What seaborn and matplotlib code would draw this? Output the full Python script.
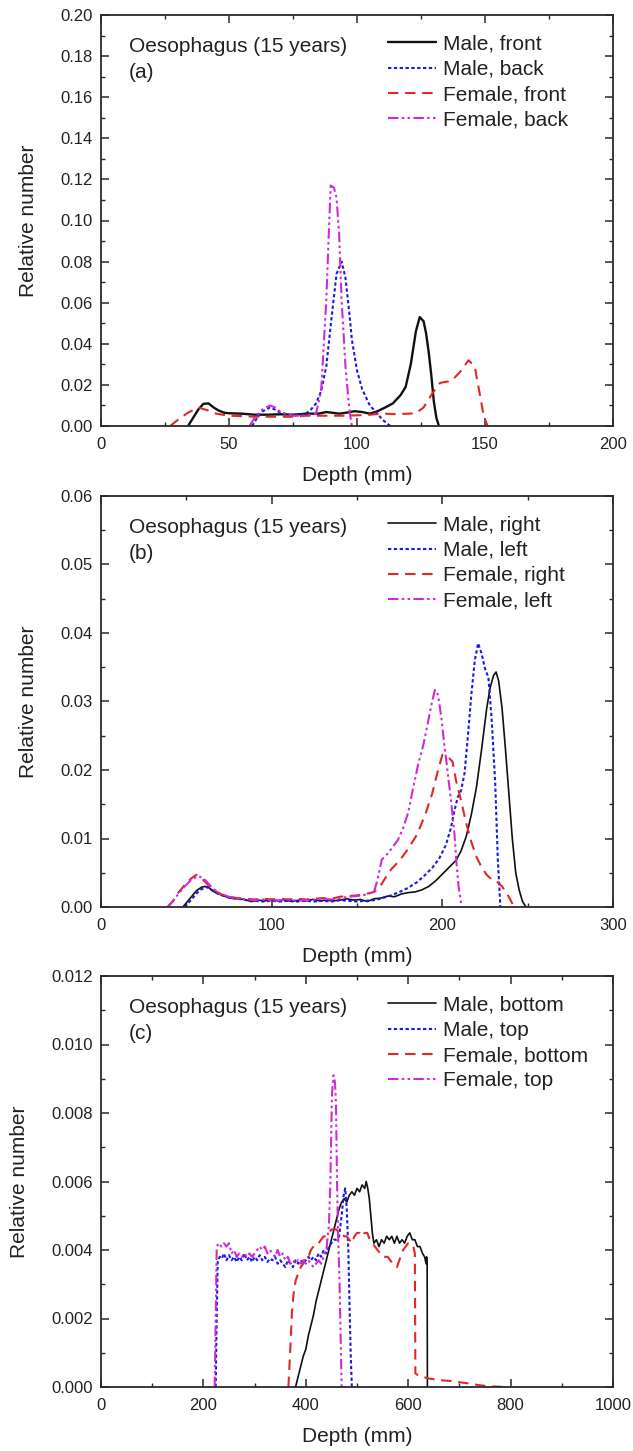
import matplotlib
matplotlib.use("Agg")
import matplotlib.pyplot as plt
import seaborn as sns
from matplotlib.ticker import MultipleLocator, FormatStrFormatter

sns.set_style("ticks")
plt.rcParams['font.family'] = ['Liberation Sans', 'DejaVu Sans']

# ---------------- Panel (a): front / back ----------------
a_male_front_x = [34, 36, 38, 40, 42, 44, 46, 48, 50, 55, 60, 65, 70, 75, 80, 85, 88, 90, 93, 96, 99, 102,
                  105, 108, 111, 114, 117, 119, 121, 123, 124.5, 126, 127, 128, 129, 130, 131, 132]
a_male_front_y = [0, 0.004, 0.008, 0.0108, 0.011, 0.009, 0.0075, 0.0065, 0.0062, 0.006, 0.0055, 0.0055,
                  0.0057, 0.0055, 0.006, 0.006, 0.0068, 0.0065, 0.006, 0.0065, 0.0072, 0.0068, 0.006, 0.0072,
                  0.009, 0.011, 0.015, 0.019, 0.03, 0.046, 0.053, 0.051, 0.045, 0.036, 0.025, 0.012, 0.004, 0]
a_male_back_x = [59, 61, 63, 66, 68, 70, 75, 80, 82, 84, 86, 88, 90, 92, 94, 95.5, 97, 98, 100, 102, 105,
                 108, 110, 113]
a_male_back_y = [0, 0.004, 0.007, 0.009, 0.008, 0.0065, 0.005, 0.006, 0.008, 0.011, 0.017, 0.029, 0.052,
                 0.074, 0.080, 0.072, 0.055, 0.042, 0.027, 0.018, 0.010, 0.006, 0.003, 0]
a_female_front_x = [27, 30, 34, 38, 42, 45, 50, 55, 60, 65, 70, 75, 80, 85, 90, 95, 100, 105, 110, 115, 120,
                    123, 126, 129.5, 132.5, 137, 140, 143.6, 146, 147.6, 149.5, 151]
a_female_front_y = [0, 0.003, 0.0065, 0.009, 0.0075, 0.006, 0.005, 0.0048, 0.0045, 0.0045, 0.0045, 0.0045,
                    0.005, 0.005, 0.005, 0.005, 0.0052, 0.0055, 0.006, 0.0058, 0.006, 0.0062, 0.009, 0.016,
                    0.021, 0.022, 0.026, 0.032, 0.029, 0.018, 0.005, 0]
a_female_back_x = [58, 60, 63, 66, 68, 70, 72, 75, 80, 84, 86, 88, 89.7, 91, 92, 93, 94, 95.5, 97, 98]
a_female_back_y = [0, 0.004, 0.008, 0.010, 0.009, 0.007, 0.006, 0.005, 0.005, 0.006, 0.0175, 0.061, 0.117,
                   0.116, 0.111, 0.094, 0.061, 0.029, 0.008, 0]
a_labels = ["Male, front", "Male, back", "Female, front", "Female, back"]

# ---------------- Panel (b): right / left ----------------
b_male_right_x = [48, 50, 53, 56, 59, 61, 63, 65, 68, 72, 76, 80, 84, 88, 92, 96, 100, 104, 108, 112, 116,
                  120, 124, 128, 132, 136, 140, 144, 148, 152, 156, 160, 164, 168, 172, 176, 180, 184, 188,
                  192, 196, 200, 204, 208, 211, 214, 217, 220, 223, 226, 228, 230, 231.5, 233, 235, 237,
                  239, 241, 243, 245, 247, 249]
b_male_right_y = [0, 0.0006, 0.0015, 0.0024, 0.0029, 0.003, 0.0029, 0.0024, 0.002, 0.0016, 0.0013, 0.0012,
                  0.0011, 0.0008, 0.001, 0.0009, 0.0011, 0.0009, 0.001, 0.0008, 0.001, 0.0009, 0.0011,
                  0.0009, 0.001, 0.0009, 0.001, 0.0012, 0.001, 0.0011, 0.0008, 0.0012, 0.0013, 0.0016,
                  0.0015, 0.0019, 0.0021, 0.0022, 0.0025, 0.003, 0.0038, 0.0048, 0.0058, 0.0068, 0.0082,
                  0.0103, 0.0135, 0.0175, 0.023, 0.029, 0.032, 0.0338, 0.0343, 0.033, 0.029, 0.023, 0.0165,
                  0.010, 0.005, 0.0025, 0.0008, 0]
b_male_left_x = [49, 52, 55, 58, 62, 65, 68, 72, 76, 80, 85, 90, 95, 100, 105, 110, 115, 120, 125, 130, 135,
                 140, 145, 150, 155, 160, 165, 170, 175, 180, 185, 190, 194, 198, 202, 205, 207, 209, 211,
                 213, 215, 217, 219, 221, 223, 225, 227, 229, 231, 232.5, 234]
b_male_left_y = [0, 0.0008, 0.0017, 0.0025, 0.0029, 0.0025, 0.002, 0.0016, 0.0013, 0.0012, 0.001, 0.0009,
                 0.0008, 0.0009, 0.0008, 0.0009, 0.0008, 0.0009, 0.0008, 0.0009, 0.0008, 0.001, 0.0009,
                 0.0008, 0.0009, 0.001, 0.0013, 0.0017, 0.0022, 0.0028, 0.0036, 0.0047, 0.0057, 0.007,
                 0.009, 0.0115, 0.014, 0.016, 0.017, 0.0195, 0.025, 0.031, 0.036, 0.0385, 0.037, 0.0348,
                 0.0335, 0.027, 0.018, 0.007, 0]
b_female_right_x = [39, 42, 45, 49, 53, 56, 59, 62, 66, 70, 75, 80, 85, 90, 95, 100, 105, 110, 115, 120, 125,
                    130, 135, 140, 145, 150, 155, 160, 163, 166, 170, 175, 180, 185, 190, 194, 197, 200, 203,
                    206, 208, 211, 214, 217, 220, 223, 226, 229, 232, 235, 238, 240, 242]
b_female_right_y = [0, 0.0008, 0.002, 0.0032, 0.0042, 0.0047, 0.0042, 0.0034, 0.0025, 0.0019, 0.0015,
                    0.0013, 0.0012, 0.0011, 0.0012, 0.0011, 0.0012, 0.0011, 0.0012, 0.0011, 0.0012, 0.0013,
                    0.0012, 0.0015, 0.0016, 0.0017, 0.0019, 0.0022, 0.0028, 0.004, 0.0055, 0.0068, 0.0085,
                    0.0105, 0.0135, 0.0165, 0.0195, 0.0222, 0.022, 0.0212, 0.0185, 0.0155, 0.0122, 0.0095,
                    0.0073, 0.0058, 0.0047, 0.004, 0.0037, 0.003, 0.0019, 0.001, 0]
b_female_left_x = [39, 42, 45, 49, 53, 57, 60, 63, 66, 70, 75, 80, 85, 90, 95, 100, 105, 110, 115, 120, 125,
                   130, 135, 140, 145, 150, 155, 160, 162, 164.5, 168, 171, 174, 177, 180, 183, 186, 189,
                   192, 194, 195.7, 197.5, 199.5, 201, 202.5, 204, 205.5, 207, 208.3, 209.5, 211.3]
b_female_left_y = [0, 0.0008, 0.0018, 0.003, 0.004, 0.0045, 0.0042, 0.0034, 0.0026, 0.0019, 0.0015, 0.0012,
                   0.0011, 0.001, 0.0011, 0.0009, 0.001, 0.0011, 0.0009, 0.001, 0.0011, 0.0012, 0.0011,
                   0.0013, 0.0015, 0.0016, 0.0018, 0.0022, 0.004, 0.0069, 0.0078, 0.0088, 0.0098, 0.0115,
                   0.0138, 0.0175, 0.021, 0.0238, 0.0275, 0.030, 0.0317, 0.031, 0.0275, 0.024, 0.021,
                   0.0178, 0.0146, 0.011, 0.0064, 0.003, 0]
b_labels = ["Male, right", "Male, left", "Female, right", "Female, left"]

# ---------------- Panel (c): bottom / top ----------------
c_male_bottom_x = [380, 385, 390, 395, 400, 405, 410, 415, 420, 425, 430, 435, 440, 445, 450, 455, 460, 465,
                   470, 475, 480, 485, 490, 495, 500, 505, 510, 515, 518, 521, 524, 527, 530, 533, 538, 543,
                   548, 553, 558, 563, 568, 573, 578, 583, 588, 593, 598, 603, 608, 613, 618, 623, 628, 632,
                   635, 636, 637, 637.5]
c_male_bottom_y = [0, 0.0003, 0.0006, 0.0009, 0.0011, 0.0015, 0.0018, 0.0021, 0.0025, 0.0028, 0.0031,
                   0.0034, 0.0037, 0.0040, 0.0043, 0.0046, 0.0049, 0.0052, 0.0054, 0.0055, 0.0054, 0.0056,
                   0.0057, 0.0056, 0.0058, 0.0057, 0.0059, 0.0058, 0.0060, 0.0058, 0.0055, 0.0050, 0.0045,
                   0.0042, 0.0043, 0.0041, 0.0043, 0.0042, 0.0044, 0.0043, 0.0044, 0.0042, 0.0044, 0.0042,
                   0.0043, 0.0042, 0.0044, 0.0045, 0.0043, 0.0043, 0.0041, 0.0041, 0.0039, 0.0038, 0.0036,
                   0.0038, 0.0036, 0]
c_male_top_x = [224, 226, 228, 232, 236, 240, 245, 250, 255, 260, 265, 270, 275, 280, 285, 290, 295, 300, 305,
                310, 315, 320, 325, 330, 335, 340, 345, 350, 355, 360, 365, 370, 375, 380, 385, 390, 395,
                400, 405, 410, 415, 420, 425, 430, 435, 440, 445, 450, 455, 460, 465, 470, 474, 477, 480,
                483, 486, 488, 490]
c_male_top_y = [0, 0.0020, 0.0037, 0.0038, 0.00375, 0.0039, 0.0037, 0.00385, 0.0037, 0.0038, 0.00365,
                0.0038, 0.0037, 0.0039, 0.0037, 0.0038, 0.00365, 0.0038, 0.0037, 0.00385, 0.0037, 0.0038,
                0.00365, 0.00375, 0.0037, 0.0038, 0.0036, 0.0037, 0.0036, 0.0035, 0.0037, 0.0036, 0.0035,
                0.0037, 0.0036, 0.0037, 0.0036, 0.0037, 0.0038, 0.0037, 0.0038, 0.0037, 0.0039, 0.0038,
                0.0040, 0.0039, 0.0041, 0.0042, 0.0043, 0.0043, 0.0044, 0.0050, 0.0056, 0.0058, 0.0052,
                0.0040, 0.0020, 0.0008, 0]
c_female_bottom_x = [366, 370, 373, 376, 380, 385, 390, 395, 400, 405, 410, 415, 420, 425, 430, 435, 440, 445,
                     450, 455, 460, 465, 470, 475, 480, 485, 490, 495, 500, 505, 510, 515, 520, 525, 530,
                     535, 540, 545, 550, 560, 570, 578, 585, 590, 595, 600, 605, 610, 613, 614, 620, 640,
                     660, 680, 700, 720, 740, 760, 790]
c_female_bottom_y = [0, 0.0012, 0.0022, 0.0027, 0.0031, 0.0033, 0.0035, 0.0036, 0.0038, 0.0038, 0.0040,
                     0.0041, 0.0042, 0.0042, 0.0043, 0.0044, 0.0044, 0.0045, 0.0046, 0.0046, 0.0046, 0.0045,
                     0.0045, 0.0044, 0.0044, 0.0043, 0.0042, 0.0044, 0.0045, 0.0045, 0.0044, 0.0045, 0.0045,
                     0.0043, 0.0042, 0.0041, 0.0040, 0.0039, 0.0038, 0.0038, 0.0036, 0.0035, 0.0038, 0.0040,
                     0.0041, 0.0042, 0.0042, 0.0041, 0.0039, 0.0004, 0.00033, 0.00025, 0.0002, 0.00018,
                     0.00014, 0.0001, 0.00005, 0.00002, 0]
c_female_top_x = [222, 224, 226, 230, 235, 240, 245, 250, 255, 260, 265, 270, 275, 280, 285, 290, 295, 300,
                  305, 310, 315, 320, 325, 330, 335, 340, 345, 350, 355, 360, 365, 370, 375, 380, 385, 390,
                  395, 400, 405, 410, 415, 420, 425, 430, 435, 440, 445, 448, 451, 454, 457, 459, 461, 463,
                  466, 468, 470]
c_female_top_y = [0, 0.0020, 0.0041, 0.0042, 0.0041, 0.0042, 0.0041, 0.0042, 0.0039, 0.0040, 0.0038, 0.0039,
                  0.0038, 0.0039, 0.0038, 0.0039, 0.0038, 0.0039, 0.0040, 0.0041, 0.0040, 0.0041, 0.0039,
                  0.0040, 0.0039, 0.0038, 0.0040, 0.0038, 0.0039, 0.0037, 0.0038, 0.0036, 0.0037, 0.0036,
                  0.0037, 0.0036, 0.0037, 0.0036, 0.0037, 0.0036, 0.0035, 0.0036, 0.0037, 0.0036, 0.0038,
                  0.0040, 0.0047, 0.0060, 0.0085, 0.0091, 0.0089, 0.0082, 0.0060, 0.0045, 0.0030, 0.0015, 0]
c_labels = ["Male, bottom", "Male, top", "Female, bottom", "Female, top"]

panel_tags = ["(a)", "(b)", "(c)"]
title_text = "Oesophagus (15 years)"

# ---------------- styling ----------------
W, H = 633, 1451
fig = plt.figure(figsize=(W / 100, H / 100), dpi=100)

colors = ["#111111", "#1a1ae6", "#e02828", "#d22ad2"]
styles = ["-", (0, (1.6, 1.2)), (0, (5, 3.2)), (0, (5, 1.6, 1.2, 1.6, 1.2, 1.6))]
widths_a = [1.7, 1.5, 1.5, 1.5]
widths_bc = [1.2, 1.5, 1.5, 1.5]

panels = [
    dict(series=[(a_male_front_x, a_male_front_y), (a_male_back_x, a_male_back_y),
                 (a_female_front_x, a_female_front_y), (a_female_back_x, a_female_back_y)],
         labels=a_labels, xlim=(0, 200), ylim=(0, 0.20), xmaj=50, xmin=25, ymaj=0.02, ymin=0.01,
         fmt="%.2f", top=15, widths=widths_a),
    dict(series=[(b_male_right_x, b_male_right_y), (b_male_left_x, b_male_left_y),
                 (b_female_right_x, b_female_right_y), (b_female_left_x, b_female_left_y)],
         labels=b_labels, xlim=(0, 300), ylim=(0, 0.06), xmaj=100, xmin=50, ymaj=0.01, ymin=0.005,
         fmt="%.2f", top=496, widths=widths_bc),
    dict(series=[(c_male_bottom_x, c_male_bottom_y), (c_male_top_x, c_male_top_y),
                 (c_female_bottom_x, c_female_bottom_y), (c_female_top_x, c_female_top_y)],
         labels=c_labels, xlim=(0, 1000), ylim=(0, 0.012), xmaj=200, xmin=100, ymaj=0.002, ymin=0.001,
         fmt="%.3f", top=976, widths=widths_bc),
]

left_px, right_px, h_px = 101, 613, 411
spine_col = "#2a2a2a"
text_col = "#222222"

for i, p in enumerate(panels):
    ax = fig.add_axes([left_px / W, 1 - (p["top"] + h_px) / H, (right_px - left_px) / W, h_px / H])
    for j, (xs, ys) in enumerate(p["series"]):
        sns.lineplot(x=xs, y=ys, ax=ax, color=colors[j], linestyle=styles[j], linewidth=p["widths"][j],
                     label=p["labels"][j], sort=False, estimator=None)
    ax.set_xlim(*p["xlim"])
    ax.set_ylim(*p["ylim"])
    ax.xaxis.set_major_locator(MultipleLocator(p["xmaj"]))
    ax.xaxis.set_minor_locator(MultipleLocator(p["xmin"]))
    ax.yaxis.set_major_locator(MultipleLocator(p["ymaj"]))
    ax.yaxis.set_minor_locator(MultipleLocator(p["ymin"]))
    ax.yaxis.set_major_formatter(FormatStrFormatter(p["fmt"]))
    ax.tick_params(which="both", direction="in", top=True, right=True, colors=spine_col,
                   labelcolor=text_col, labelsize=12)
    ax.tick_params(axis="y", pad=6)
    ax.tick_params(axis="x", pad=8)
    ax.tick_params(which="major", length=5.5, width=1.1)
    ax.tick_params(which="minor", length=3, width=1.0)
    for s in ax.spines.values():
        s.set_visible(True)
        s.set_linewidth(1.3)
        s.set_color(spine_col)
    ax.set_xlabel("Depth (mm)", fontsize=15, color=text_col, labelpad=10)
    ax.set_ylabel("Relative number", fontsize=15, color=text_col, labelpad=16)
    ax.text(0.054, 0.923, title_text, transform=ax.transAxes, fontsize=15, color=text_col,
            va="center", ha="left")
    ax.text(0.054, 0.859, panel_tags[i], transform=ax.transAxes, fontsize=15, color=text_col,
            va="center", ha="left")
    leg = ax.legend(loc="upper left", bbox_to_anchor=(0.56, 0.952), frameon=False, fontsize=15,
                    handlelength=2.3, handletextpad=0.35, labelspacing=0.3, borderpad=0,
                    borderaxespad=0)
    for t in leg.get_texts():
        t.set_color(text_col)

fig.savefig("out.png", dpi=100)
